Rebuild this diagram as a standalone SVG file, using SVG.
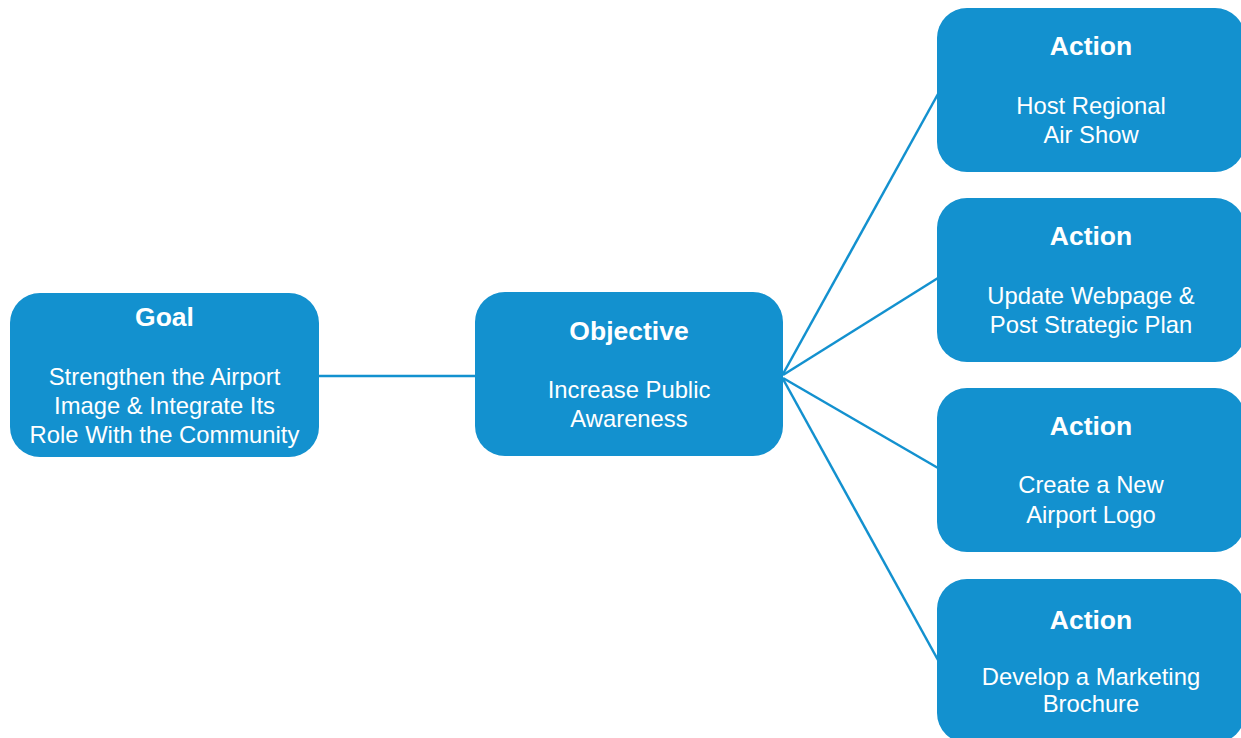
<svg xmlns="http://www.w3.org/2000/svg" width="1241" height="738" viewBox="0 0 1241 738">
<style>
.box{fill:#1391cf;}
.t{font-family:"Liberation Sans",Arial,sans-serif;fill:#ffffff;text-anchor:middle;}
.h{font-size:26.5px;font-weight:bold;}
.b{font-size:23.8px;}
.c{stroke:#1391cf;stroke-width:2.5;fill:none;}
</style>
<rect width="1241" height="738" fill="#ffffff"/>
<g id="connectors">
<line class="c" x1="319" y1="376" x2="475" y2="376"/>
<line class="c" x1="783" y1="374" x2="938" y2="94"/>
<line class="c" x1="783" y1="375" x2="938" y2="278"/>
<line class="c" x1="783" y1="378" x2="938" y2="468"/>
<line class="c" x1="783" y1="379" x2="938" y2="660"/>
</g>
<g id="goal">
<rect class="box" x="10" y="293" width="309" height="164" rx="30"/>
<text class="t h" x="164.5" y="326">Goal</text>
<text class="t b" x="164.5" y="385">Strengthen the Airport</text>
<text class="t b" x="164.5" y="414">Image &amp; Integrate Its</text>
<text class="t b" x="164.5" y="443">Role With the Community</text>
</g>
<g id="objective">
<rect class="box" x="475" y="292" width="308" height="164" rx="30"/>
<text class="t h" x="629" y="340">Objective</text>
<text class="t b" x="629" y="398">Increase Public</text>
<text class="t b" x="629" y="427">Awareness</text>
</g>
<g id="action1">
<rect class="box" x="937" y="8" width="308" height="164" rx="30"/>
<text class="t h" x="1091" y="55">Action</text>
<text class="t b" x="1091" y="114">Host Regional</text>
<text class="t b" x="1091" y="143">Air Show</text>
</g>
<g id="action2">
<rect class="box" x="937" y="198" width="308" height="164" rx="30"/>
<text class="t h" x="1091" y="245">Action</text>
<text class="t b" x="1091" y="304">Update Webpage &amp;</text>
<text class="t b" x="1091" y="333">Post Strategic Plan</text>
</g>
<g id="action3">
<rect class="box" x="937" y="388" width="308" height="164" rx="30"/>
<text class="t h" x="1091" y="435">Action</text>
<text class="t b" x="1091" y="493">Create a New</text>
<text class="t b" x="1091" y="523">Airport Logo</text>
</g>
<g id="action4">
<rect class="box" x="937" y="579" width="308" height="164" rx="30"/>
<text class="t h" x="1091" y="629">Action</text>
<text class="t b" x="1091" y="685">Develop a Marketing</text>
<text class="t b" x="1091" y="712">Brochure</text>
</g>
</svg>
